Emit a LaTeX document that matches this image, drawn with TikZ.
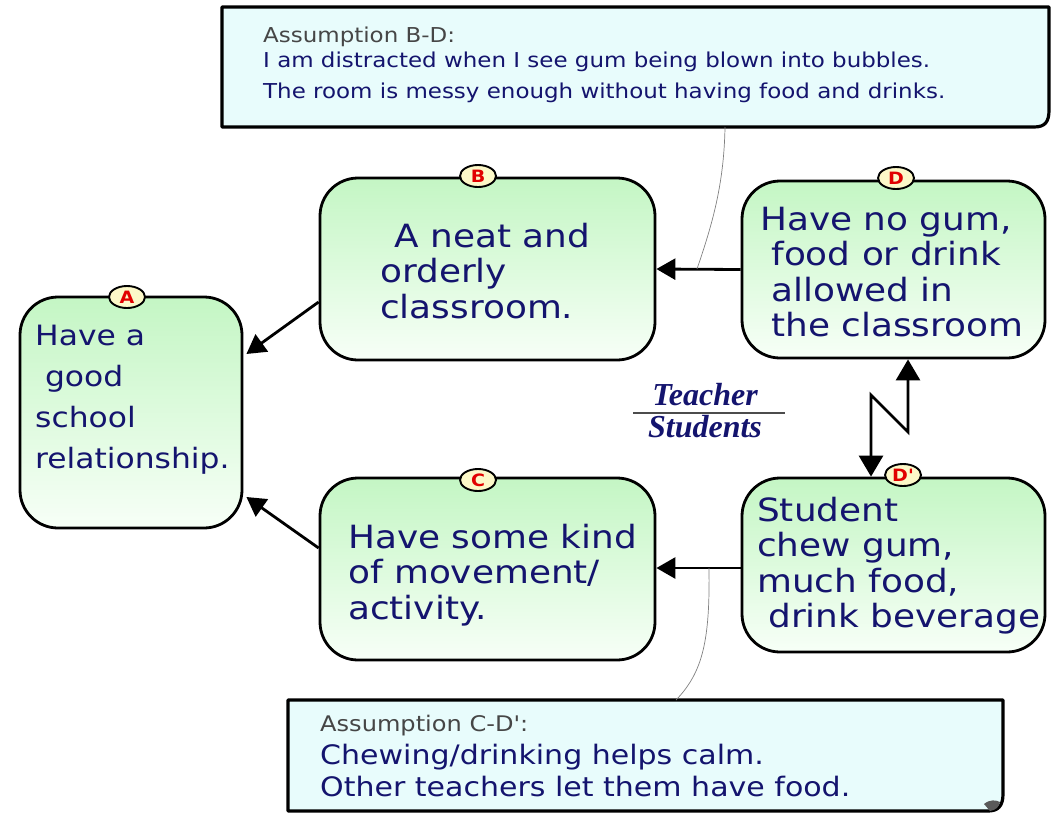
\documentclass[tikz,border=0pt]{standalone}
\usepackage{fontspec}
\usetikzlibrary{arrows.meta,shapes.geometric,calc}
\newfontfamily\boxfont[FakeStretch=1.12]{DejaVu Sans}
\newfontfamily\tsfont{Liberation Serif}
\definecolor{navy}{RGB}{20,20,110}
\definecolor{grtop}{RGB}{196,246,196}
\definecolor{grbot}{RGB}{247,255,247}
\definecolor{callfill}{RGB}{232,252,252}
\definecolor{tagfill}{RGB}{252,248,200}
\definecolor{tagred}{RGB}{225,0,0}
\definecolor{asmgray}{RGB}{70,70,70}
\definecolor{foldgray}{RGB}{90,90,90}
\begin{document}
\begin{tikzpicture}[x=1pt,y=-1pt,
  goal/.style={draw=black, line width=2.8pt, rounded corners=38pt, top color=grtop, bottom color=grbot, inner sep=0pt},
  tag/.style={ellipse, draw=black, line width=1.9pt, fill=tagfill, minimum width=36pt, minimum height=22pt, inner sep=0pt, text=tagred, font=\boxfont\bfseries\fontsize{17}{17}\selectfont},
  boxtext/.style={anchor=base west, align=left, inner sep=0pt, text=navy, font=\boxfont\fontsize{32}{35.5}\selectfont},
  link/.style={line width=2.8pt, -{Triangle[length=19pt,width=21pt]}},
  callout/.style={draw=black, line width=3.2pt, fill=callfill, line join=round},
  asmtext/.style={anchor=base west, align=left, inner sep=0pt, text=navy},
  note/.style={draw=gray, line width=0.7pt}
]
\useasboundingbox (0,0) rectangle (1051,814);

% callout shapes
\draw[callout] (222,7) -- (1049,7) -- (1049,110) .. controls (1049,122) and (1045,127) .. (1034,127) -- (222,127) -- cycle;
\draw[callout] (288,700) -- (1003,700) -- (1003,794) .. controls (1003,806) and (998,811) .. (988,811) -- (288,811) -- cycle;
\fill[foldgray] (984,804) .. controls (990,799) and (996,800) .. (1000,802) .. controls (999,807) and (996,810) .. (990,811) -- cycle;

% goal boxes
\node[goal, minimum width=222pt, minimum height=231pt] (A) at (131,412.5) {};
\node[goal, minimum width=335pt, minimum height=182pt] (B) at (487.5,269) {};
\node[goal, minimum width=303pt, minimum height=177pt] (D) at (893.5,269.5) {};
\node[goal, minimum width=335pt, minimum height=182pt] (C) at (487.5,569) {};
\node[goal, minimum width=303pt, minimum height=174pt] (Dp) at (893.5,565) {};

% box texts (anchor = baseline of last line)
\node[boxtext, font=\boxfont\fontsize{28}{41}\selectfont] (tA) at (35,468) {Have a\\\hspace{0.35em}good\\school\\relationship.};
\node[boxtext] (tB) at (380,318) {\hspace{0.45em}A neat and\\orderly\\classroom.};
\node[boxtext] (tD) at (760,336.5) {Have no gum,\\\hspace{0.35em}food or drink\\\hspace{0.35em}allowed in\\\hspace{0.35em}the classroom};
\node[boxtext] (tC) at (348,619) {Have some kind\\of movement/\\activity.};
\node[boxtext] (tDp) at (757,627.5) {Student\\chew gum,\\much food,\\\hspace{0.35em}drink beverage};

% tags
\node[tag] (gA) at (127,297) {A};
\node[tag] (gB) at (478,176) {B};
\node[tag] (gD) at (896,178) {D};
\node[tag] (gC) at (478,480) {C};
\node[tag] (gDp) at (903,475) {D'};

% connectors
\draw[link] (D.west) -- (B.east);
\draw[link] (Dp.west |- 0,568) -- (C.east |- 0,568);
\draw[link] ($(B.west)+(0,33)$) -- ($(A.east)+(3,-58.5)$);
\draw[link] ($(C.west)+(0,-21)$) -- ($(A.east)+(3,84.5)$);
\draw[line width=2.8pt, {Triangle[length=21pt,width=24pt]}-{Triangle[length=21pt,width=24pt]}]
  (D.south -| 908,0) -- (908,432) -- (871,395) -- (Dp.north -| 871,0);

% callout leader lines
\coordinate (n1s) at (725,127);
\coordinate (n1e) at (697,269);
\coordinate (n2s) at (709,568);
\coordinate (n2e) at (676,700);
\draw[note] (n1s) .. controls (724,185) and (712,225) .. (n1e);
\draw[note] (n2s) .. controls (710,640) and (703,672) .. (n2e);

% Teacher / Students
\node[text=navy, font=\tsfont\bfseries\itshape\fontsize{32}{32}\selectfont, anchor=base, inner sep=0pt] (tT) at (705,405) {Teacher};
\node[text=navy, font=\tsfont\bfseries\itshape\fontsize{32}{32}\selectfont, anchor=base, inner sep=0pt] (tS) at (705,437) {Students};
\draw[line width=1.2pt, black!70] (633,413) -- (785,413);

% callout texts
\node[asmtext, text=asmgray, font=\boxfont\fontsize{20.5}{20.5}\selectfont] (a1) at (263,42) {Assumption B-D:};
\node[asmtext, font=\boxfont\fontsize{20.5}{31}\selectfont] (a1b) at (263,98) {I am distracted when I see gum being blown into bubbles.\\The room is messy enough without having food and drinks.};
\node[asmtext, text=asmgray, font=\boxfont\fontsize{21.5}{21.5}\selectfont] (a2) at (320,731) {Assumption C-D':};
\node[asmtext, font=\boxfont\fontsize{26.8}{32}\selectfont] (a2b) at (320,796) {Chewing/drinking helps calm.\\Other teachers let them have food.};
\end{tikzpicture}
\end{document}
